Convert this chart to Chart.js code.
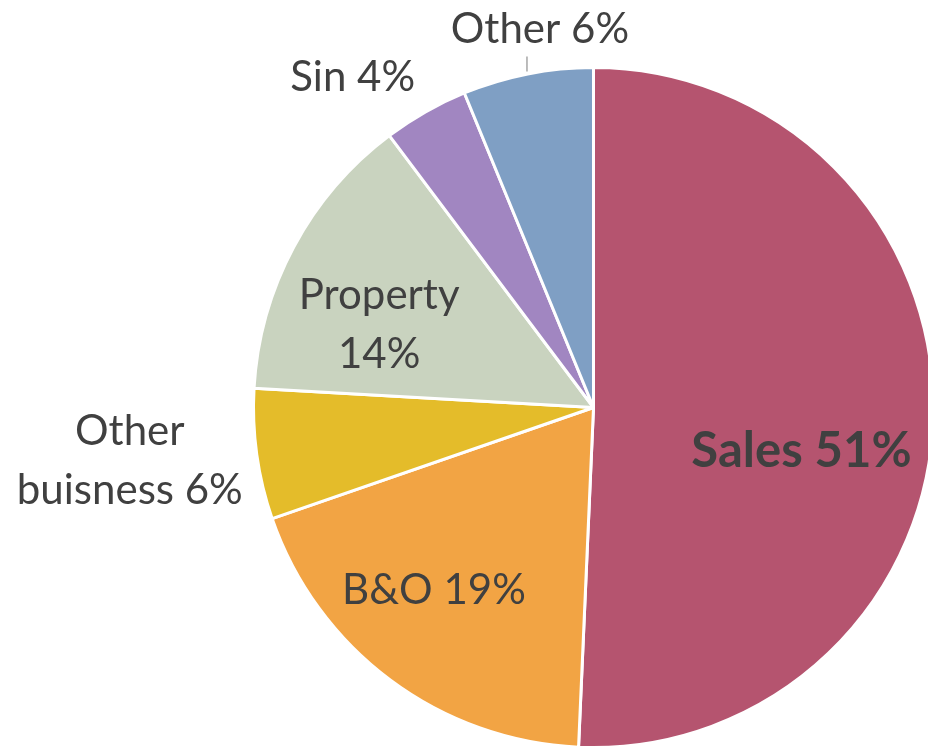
<!DOCTYPE html>
<html>
<head>
<meta charset="utf-8">
<script src="https://cdn.jsdelivr.net/npm/chart.js@4/dist/chart.umd.min.js"></script>
<style>
  html, body { margin: 0; padding: 0; background: #fff; overflow: hidden; }
  canvas { display: block; }
</style>
</head>
<body>
<canvas id="pie_chart" width="940" height="760"></canvas>
<script>
var categories = ['Sales', 'B&O', 'Other buisness', 'Property', 'Sin', 'Other'];
// shares (labels show rounded values)
var shares = [50.7, 19.0, 6.2, 13.85, 4.05, 6.2];
var label_lines = [
    ['Sales 51%'],
    ['B&O 19%'],
    ['Other', 'buisness 6%'],
    ['Property', '14%'],
    ['Sin 4%'],
    ['Other 6%']
];
var slice_colors = ['#B5546F', '#F2A444', '#E4BC2A', '#C9D3BF', '#A186C1', '#7F9FC4'];

// where each label sits: radius factor and angle shift (deg) from the slice middle
var label_radius = [0.625, 0.715, 1.373, 0.676, 1.202, 1.123];
var label_shift = [10.6, 4.3, 1.3, -7.0, -6.5, 3.1];
var label_bold = [true, false, false, false, false, false];

var pieLabels = {
    id: 'pieLabels',
    afterDatasetsDraw: function(chart) {
        var ctx = chart.ctx;
        var arcs = chart.getDatasetMeta(0).data;
        ctx.save();
        ctx.fillStyle = '#404040';
        ctx.textAlign = 'center';
        ctx.textBaseline = 'middle';
        arcs.forEach(function(arc, i) {
            var mid = (arc.startAngle + arc.endAngle) / 2 + label_shift[i] * Math.PI / 180;
            var r = arc.outerRadius * label_radius[i];
            var x = arc.x + r * Math.cos(mid);
            var y = arc.y + r * Math.sin(mid);
            ctx.font = (label_bold[i] ? 'bold 49px' : '42px') + ' Lato, "Open Sans", sans-serif';
            var lines = label_lines[i];
            var lh = 59;
            for (var k = 0; k < lines.length; k++) {
                ctx.fillText(lines[k], x, y + (k - (lines.length - 1) / 2) * lh);
            }
            if (i === 5) {
                // short leader line under the top label
                ctx.strokeStyle = '#A6A6A6';
                ctx.lineWidth = 1.5;
                ctx.beginPath();
                ctx.moveTo(x - 13, y + 27);
                ctx.lineTo(x - 13, y + 42);
                ctx.stroke();
            }
        });
        ctx.restore();
    }
};

var ctx = document.getElementById('pie_chart');
var myChart = new Chart(ctx, {
    type: 'pie',
    data: {
        labels: categories,
        datasets: [{
            data: shares,
            backgroundColor: slice_colors,
            borderColor: '#ffffff',
            borderWidth: 3
        }]
    },
    options: {
        responsive: false,
        animation: false,
        layout: {
            padding: {left: 252, right: 5, top: 66, bottom: 11}
        },
        plugins: {
            legend: {display: false},
            tooltip: {enabled: false}
        }
    },
    plugins: [pieLabels]
});
</script>
</body>
</html>
